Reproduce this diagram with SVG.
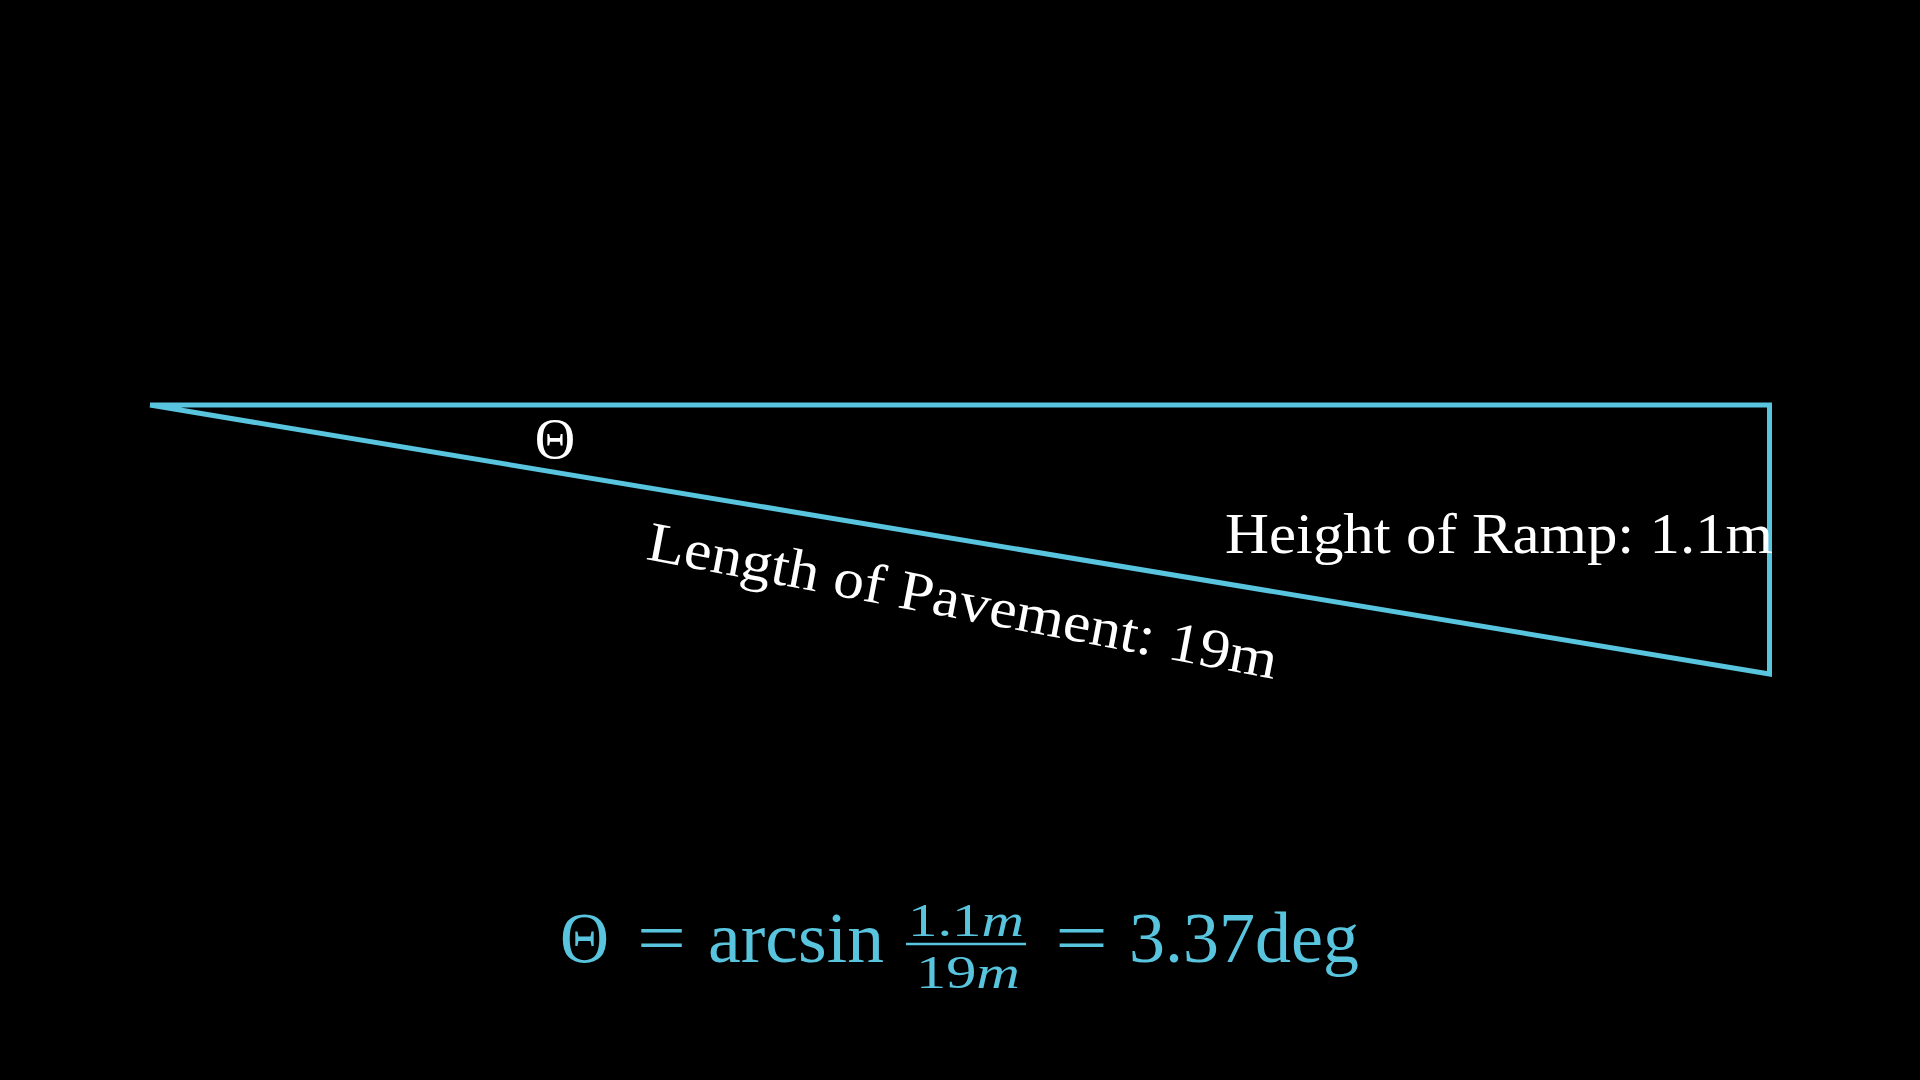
<svg xmlns="http://www.w3.org/2000/svg" width="1920" height="1080" viewBox="0 0 1920 1080">
<style>
.edge{fill:none;stroke:#58C4DD;stroke-width:5;stroke-linejoin:miter}
.lbl{fill:#FFFFFF;font-family:"Liberation Serif","DejaVu Serif",serif}
.eq{fill:#58C4DD;font-family:"Liberation Serif","DejaVu Serif",serif}
</style>
<rect x="0" y="0" width="1920" height="1080" fill="#000000"/>
<g id="connectors">
<polyline class="edge" points="150,405 1769.5,405 1769.5,674 150,405"/>
</g>
<g id="theta-label">
<text class="lbl" x="555" y="458" font-size="56" text-anchor="middle">Θ</text>
</g>
<g id="height-label">
<text class="lbl" x="1225" y="553" font-size="57" textLength="548" lengthAdjust="spacingAndGlyphs">Height of Ramp: 1.1m</text>
</g>
<g id="length-label" transform="translate(645,559) rotate(10.8)">
<text class="lbl" x="0" y="0" font-size="56" textLength="640" lengthAdjust="spacingAndGlyphs">Length of Pavement: 19m</text>
</g>
<g id="equation">
<text class="eq" x="560" y="962" font-size="72" textLength="49" lengthAdjust="spacingAndGlyphs">Θ</text>
<text class="eq" x="637" y="962" font-size="72" textLength="49" lengthAdjust="spacingAndGlyphs">=</text>
<text class="eq" x="708" y="962" font-size="72" textLength="176" lengthAdjust="spacingAndGlyphs">arcsin</text>
<text class="eq" x="908" y="936" font-size="47" textLength="116" lengthAdjust="spacingAndGlyphs">1.1<tspan font-style="italic">m</tspan></text>
<line x1="906" y1="944" x2="1026" y2="944" stroke="#58C4DD" stroke-width="2.5"/>
<text class="eq" x="916" y="988" font-size="47" textLength="104" lengthAdjust="spacingAndGlyphs">19<tspan font-style="italic">m</tspan></text>
<text class="eq" x="1055" y="962" font-size="72" textLength="53" lengthAdjust="spacingAndGlyphs">=</text>
<text class="eq" x="1129" y="962" font-size="72" textLength="230" lengthAdjust="spacingAndGlyphs">3.37deg</text>
</g>
</svg>
